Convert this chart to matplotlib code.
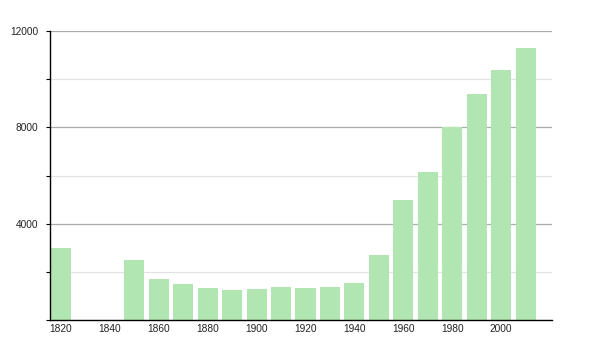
import matplotlib
matplotlib.use("Agg")
import matplotlib.pyplot as plt
from matplotlib.ticker import MultipleLocator

years = [1820, 1850, 1860, 1870, 1880, 1890, 1900, 1910, 1920, 1930,
         1940, 1950, 1960, 1970, 1980, 1990, 2000, 2010]
population = [3000, 2500, 1700, 1500, 1330, 1250, 1280, 1360, 1330, 1370,
              1540, 2700, 4990, 6150, 8000, 9390, 10380, 11300]
xticks = [1820, 1840, 1860, 1880, 1900, 1920, 1940, 1960, 1980, 2000]

plt.rcParams["font.family"] = ["Liberation Sans", "DejaVu Sans"]

fig = plt.figure(figsize=(6, 3.5), dpi=100)
ax = fig.add_axes([0.0833, 0.0857, 0.8367, 0.8257])

ax.bar(years, population, width=8.2, color="#b1e5b1", zorder=2)

ax.set_xlim(1815.5, 2020.8)
ax.set_ylim(0, 12000)

ax.yaxis.set_major_locator(MultipleLocator(4000))
ax.yaxis.set_minor_locator(MultipleLocator(2000))
ax.grid(axis="y", which="major", color="#aaaaaa", linewidth=0.9, zorder=0)
ax.grid(axis="y", which="minor", color="#e2e2e2", linewidth=0.9, zorder=0)
ax.set_yticks([4000, 8000, 12000])

ax.set_xticks(xticks)
ax.tick_params(axis="x", length=0, pad=3, labelsize=7.3, colors="#222222")
ax.tick_params(axis="y", which="both", length=3, width=0.8, pad=5.5,
               labelsize=7.3, colors="#222222")
ax.tick_params(axis="y", which="both", color="black")

for side in ["top", "right"]:
    ax.spines[side].set_visible(False)
for side in ["left", "bottom"]:
    ax.spines[side].set_color("black")
    ax.spines[side].set_linewidth(1.0)

fig.savefig("out.png", dpi=100, facecolor="white")
